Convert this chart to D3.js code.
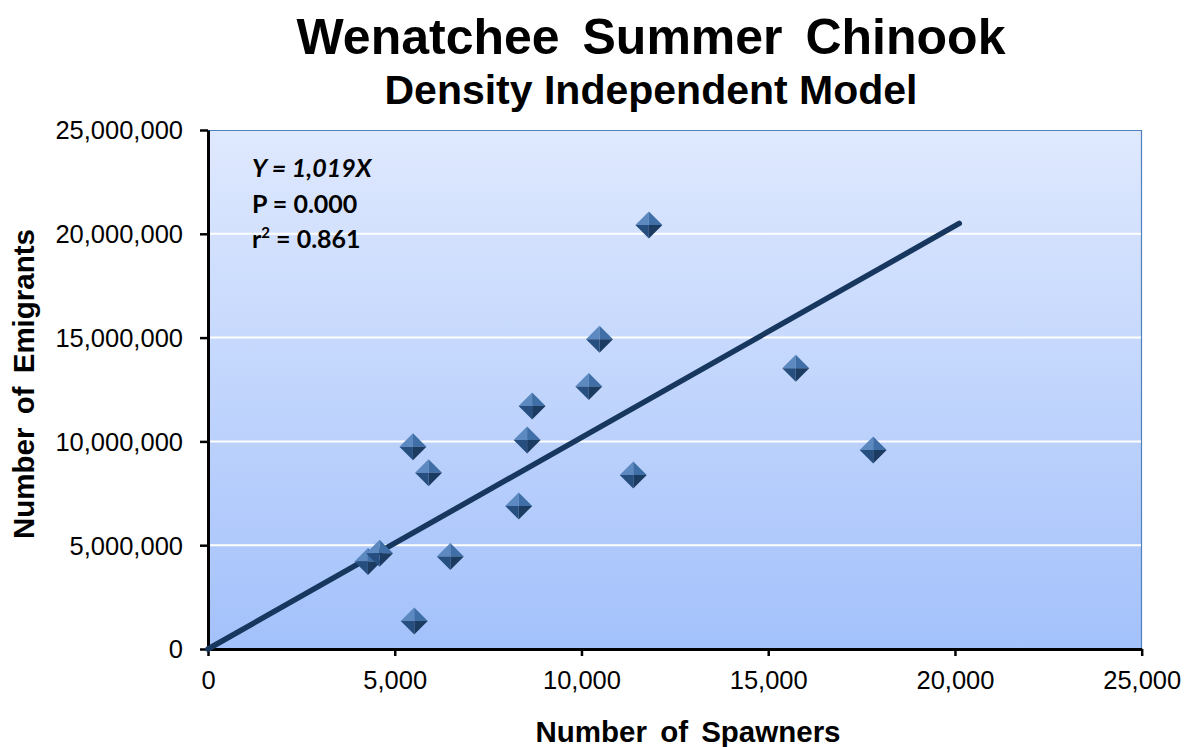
<!DOCTYPE html>
<html>
<head>
<meta charset="utf-8">
<script src="https://cdn.jsdelivr.net/npm/d3@7"></script>
<style>
html,body{margin:0;padding:0;background:#fff;}
svg{display:block;}
</style>
</head>
<body>
<svg id="chart" width="1185" height="747"></svg>
<script>
// ---- data ----
const spawners  = [4282, 4593, 5488, 5906, 6488, 5523, 8544, 8319, 11804, 10483, 10196, 8678, 15737, 17810, 11386];
const emigrants = [4210000, 4610000, 9740000, 8490000, 4450000, 1350000, 10070000, 6890000, 20420000, 14920000, 12640000, 11710000, 13520000, 9590000, 8380000];
const xTicks = [0, 5000, 10000, 15000, 20000, 25000];
const yTicks = [0, 5000000, 10000000, 15000000, 20000000, 25000000];
const slope = 1019;
const fitRange = [0, 20115];
const titleText = "Wenatchee Summer Chinook";
const subtitleText = "Density Independent Model";
const xLabel = "Number of Spawners";
const yLabel = "Number of Emigrants";
const annotations = ["Y = 1,019X", "P = 0.000", "r2 = 0.861"];

// ---- layout ----
const svg = d3.select("#chart");
const L = 208, R = 1142, T = 130, B = 649;
const x = d3.scaleLinear().domain([0, 25000]).range([L, 1141.7]);
const y = d3.scaleLinear().domain([0, 25000000]).range([B, T]);

const defs = svg.append("defs");
const grad = defs.append("linearGradient").attr("id","bg").attr("x1",0).attr("y1",0).attr("x2",0).attr("y2",1);
grad.append("stop").attr("offset","0%").attr("stop-color","#dfe9fe");
grad.append("stop").attr("offset","100%").attr("stop-color","#a3c1fb");
const blur = defs.append("filter").attr("id","soft").attr("x","-20%").attr("y","-20%").attr("width","140%").attr("height","140%");
blur.append("feGaussianBlur").attr("stdDeviation",0.7);
const sh = defs.append("filter").attr("id","ashadow").attr("x","-5%").attr("y","-50%").attr("width","110%").attr("height","300%");
sh.append("feGaussianBlur").attr("stdDeviation",1.2);

// plot background
svg.append("rect").attr("x",L).attr("y",T).attr("width",R-L).attr("height",B-T).attr("fill","url(#bg)");
// top & right thin border
svg.append("path").attr("d",`M${L},${T+0.5}H${R-0.5}V${B}`).attr("fill","none").attr("stroke","#4f81bd").attr("stroke-width",1.2);

// gridlines
svg.append("g").selectAll("line").data(yTicks.filter(d=>d>0 && d<25000000)).join("line")
  .attr("x1",L).attr("x2",R-1).attr("y1",d=>y(d)).attr("y2",d=>y(d))
  .attr("stroke","#ffffff").attr("stroke-width",2);

// axis shadow
svg.append("line").attr("x1",L).attr("x2",R).attr("y1",B+3).attr("y2",B+3).attr("stroke","#888").attr("stroke-width",2).attr("opacity",0.6).attr("filter","url(#ashadow)");

// axes
const xAxis = d3.axisBottom(x).tickValues(xTicks).tickSize(7).tickSizeOuter(0).tickFormat(d3.format(","));
const yAxis = d3.axisLeft(y).tickValues(yTicks).tickSize(8).tickSizeOuter(0).tickFormat(d3.format(","));
const gx = svg.append("g").attr("transform",`translate(0,${B})`).call(xAxis);
const gy = svg.append("g").attr("transform",`translate(${L},0)`).call(yAxis);
[gx, gy].forEach(g=>{
  g.select(".domain").attr("stroke","#000").attr("stroke-width",3);
  g.selectAll(".tick line").attr("stroke","#000").attr("stroke-width",2.5);
  g.selectAll(".tick text").attr("fill","#000").attr("font-family","Liberation Sans, Arial, sans-serif").attr("font-size",25.5);
});
gx.selectAll(".tick text").attr("dy",0).attr("y",40);
gy.selectAll(".tick text").attr("x",-25).attr("dy","0.35em");

// regression line
const fit = fitRange.map(v=>[v, v*slope]);
svg.append("path").datum(fit)
  .attr("d", d3.line().x(d=>x(d[0])).y(d=>y(d[1])))
  .attr("fill","none").attr("stroke","#17375e").attr("stroke-width",5.5).attr("stroke-linecap","round");

// markers (pyramid diamonds)
const pts = spawners.map((s,i)=>({x:s, y:emigrants[i]}));
const h = 13.5;
const faces = [
  {f:(cx,cy)=>`M${cx-h},${cy}L${cx},${cy-h}L${cx},${cy}Z`, c:"#5b89c0"},
  {f:(cx,cy)=>`M${cx},${cy-h}L${cx+h},${cy}L${cx},${cy}Z`, c:"#3f6ea6"},
  {f:(cx,cy)=>`M${cx+h},${cy}L${cx},${cy+h}L${cx},${cy}Z`, c:"#1c3a60"},
  {f:(cx,cy)=>`M${cx},${cy+h}L${cx-h},${cy}L${cx},${cy}Z`, c:"#284f80"}
];
const mg = svg.append("g").attr("filter","url(#soft)");
const m = mg.selectAll("g.pt").data(pts).join("g").attr("class","pt");
faces.forEach(fc=>{
  m.append("path").attr("d",d=>fc.f(x(d.x),y(d.y))).attr("fill",fc.c);
});

// annotations
const ann = svg.append("g").attr("font-family","Lato, 'Open Sans', sans-serif").attr("font-weight","bold").attr("font-size",25).attr("fill","#000");
ann.append("text").attr("x",252).attr("y",177).attr("font-style","italic").text(annotations[0]);
ann.append("text").attr("x",252).attr("y",213).text(annotations[1]);
const t3 = ann.append("text").attr("x",252).attr("y",248);
t3.append("tspan").text("r");
t3.append("tspan").attr("font-size",15).attr("dy",-10).text("2");
t3.append("tspan").attr("dy",10).text(" = 0.861");

// titles
svg.append("text").attr("x",651).attr("y",54).attr("text-anchor","middle")
  .attr("font-family","Liberation Sans, Arial, sans-serif").attr("font-weight","bold").attr("font-size",50)
  .attr("word-spacing",9).text(titleText);
svg.append("text").attr("x",651).attr("y",104).attr("text-anchor","middle")
  .attr("font-family","Liberation Sans, Arial, sans-serif").attr("font-weight","bold").attr("font-size",41)
  .text(subtitleText);
svg.append("text").attr("x",688).attr("y",742).attr("text-anchor","middle")
  .attr("font-family","Liberation Sans, Arial, sans-serif").attr("font-weight","bold").attr("font-size",29.5)
  .attr("word-spacing",5).text(xLabel);
svg.append("text").attr("transform","translate(34,384) rotate(-90)").attr("text-anchor","middle")
  .attr("font-family","Liberation Sans, Arial, sans-serif").attr("font-weight","bold").attr("font-size",29.5)
  .attr("word-spacing",5).text(yLabel);
</script>
</body>
</html>
